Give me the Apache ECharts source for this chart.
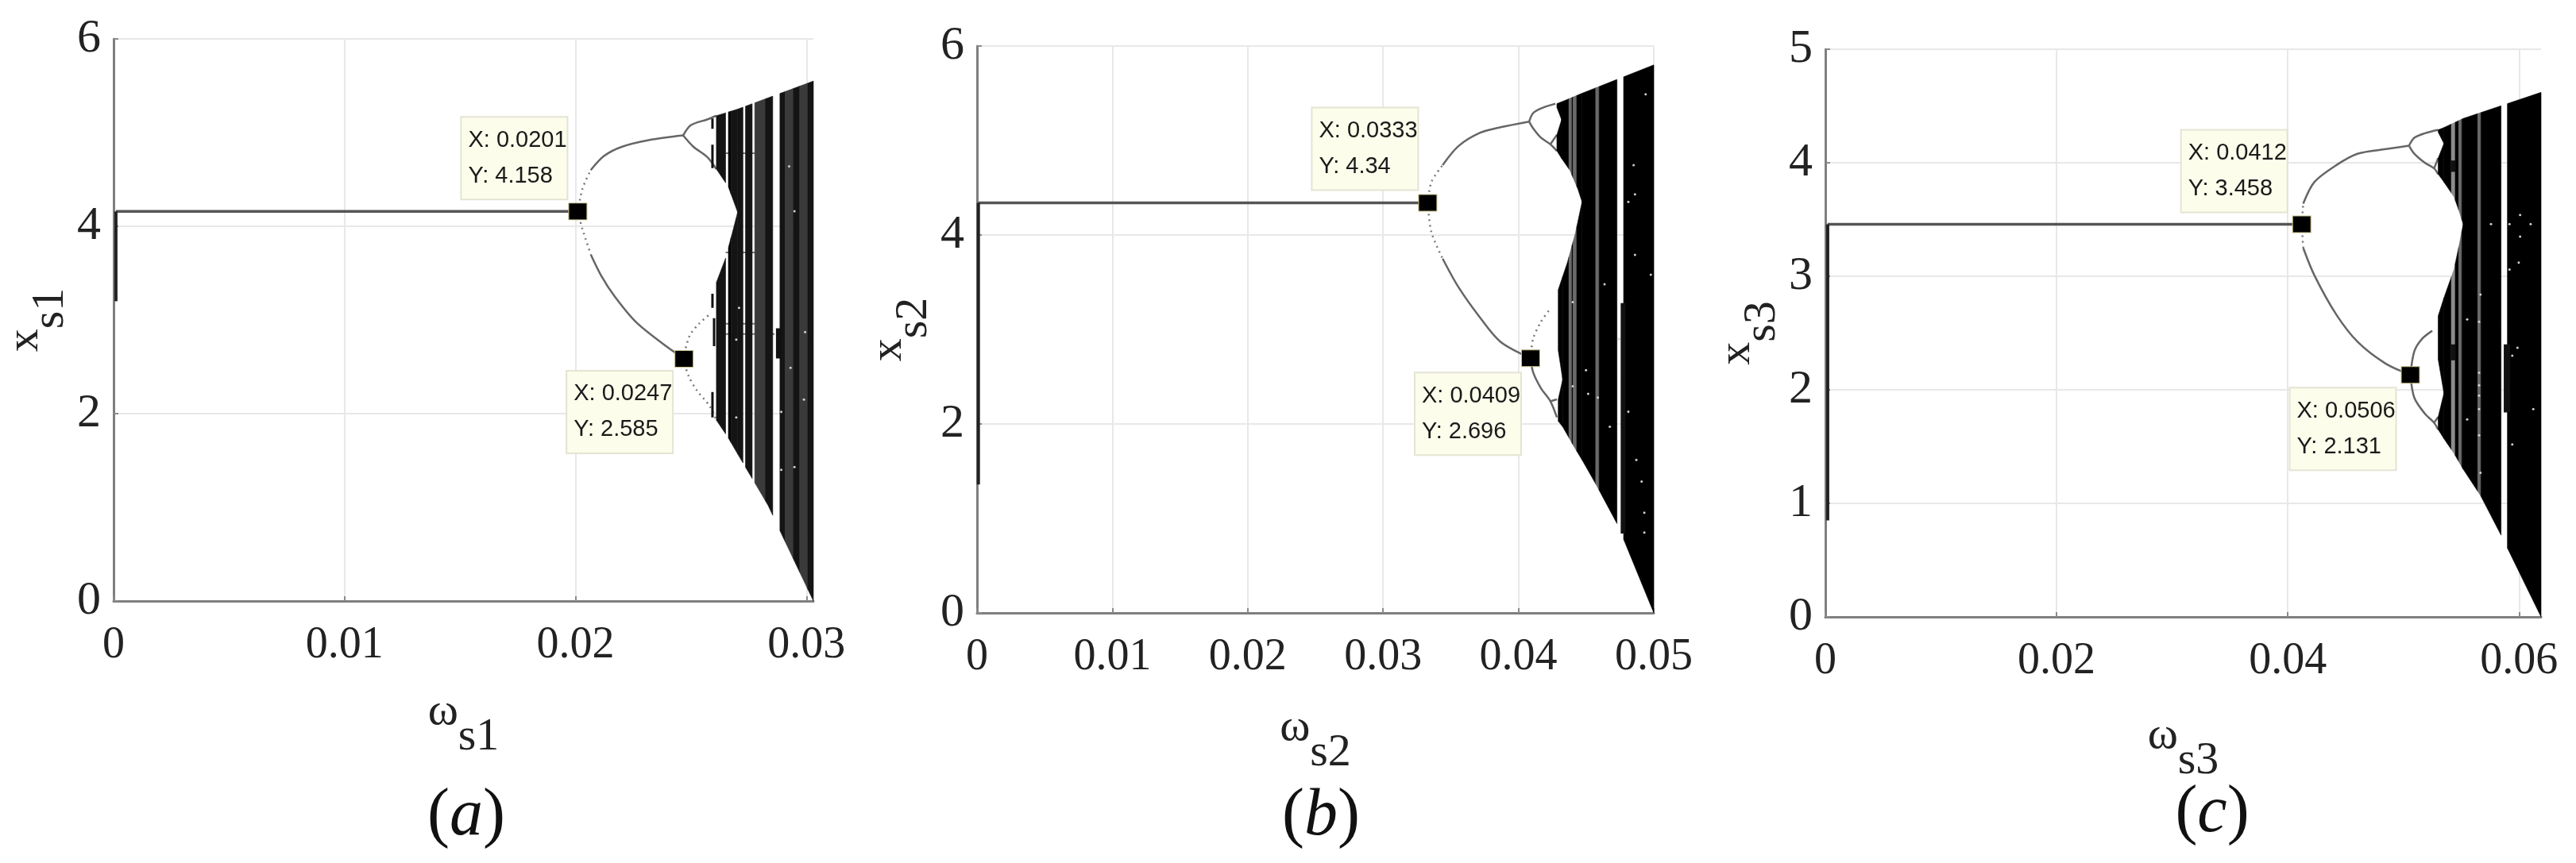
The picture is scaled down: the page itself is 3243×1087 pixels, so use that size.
<!DOCTYPE html>
<html><head><meta charset="utf-8"><style>html,body{margin:0;padding:0;background:#fff}#c{width:3243px;height:1087px}</style>
<script src="https://cdn.jsdelivr.net/npm/echarts@6/dist/echarts.min.js"></script></head>
<body><div id="c"></div><script>
// ---------- panel (a) ----------
const aXMax=0.0303, aYMax=6, aXStep=0.01, aYStep=2;
const aFixed=[[0.0001,4.158],[0.0201,4.158]];
const aTransient=[[0.0001,3.2],[0.0001,4.158]];
const aSparse=[[[0.0201,4.158],[0.0203,4.40],[0.02066,4.60]],[[0.0201,4.158],[0.0203,3.97],[0.02066,3.70]],[[0.02466,2.585],[0.02494,2.83],[0.02535,2.96],[0.02576,3.05]],[[0.02466,2.585],[0.0249,2.40],[0.02525,2.25],[0.02581,2.08],[0.0261,1.93]]];
const aBranches=[[[0.02066,4.60],[0.02123,4.75],[0.02202,4.85],[0.02317,4.92],[0.02466,4.97]],[[0.02066,3.70],[0.02112,3.47],[0.0217,3.25],[0.02261,2.98],[0.02376,2.75],[0.0247,2.585]],[[0.02466,4.97],[0.0250,5.08],[0.0257,5.14],[0.0261,5.18]],[[0.02466,4.97],[0.0251,4.85],[0.0257,4.74],[0.0261,4.61]]];
const aBands=[
 {top:[[0.0261,5.18],[0.02702,5.25]],bot:[[0.0261,4.61],[0.02662,4.42],[0.02702,4.15]]},
 {top:[[0.0261,3.40],[0.0265,3.66],[0.02679,3.93],[0.02702,4.15]],bot:[[0.0261,1.93],[0.02662,1.74],[0.02702,1.57]]},
 {top:[[0.02702,5.25],[0.0303,5.55]],bot:[[0.02702,1.57],[0.02834,1.02],[0.02891,0.72],[0.0303,0]]}];
const aStrips=[[0.0261,0.0265,1],[0.02662,0.02673,0],[0.02673,0.02725,1],[0.02736,0.02765,1],[0.02776,0.02822,2],[0.02822,0.02854,1],[0.02885,0.02908,1],[0.02908,0.02943,2],[0.02943,0.02971,1],[0.02971,0.03006,2],[0.03006,0.0303,1]];
const aBits=[[0.02593,5.15,5.04,3],[0.02593,4.87,4.62,3],[0.02593,3.28,3.13,3],[0.026,3.02,2.72,3],[0.02593,2.23,1.96,3],[0.0288,2.91,2.59,7]];
const aTraces=[[[0.0265,4.78],[0.02776,4.78]],[[0.0265,3.72],[0.02776,3.72]],[[0.02627,2.96],[0.02776,2.96]],[[0.02627,2.85],[0.02862,2.85]]];
const aSpecks=[[0.02948,4.16],[0.02925,4.64],[0.02708,3.13],[0.02696,2.79],[0.02891,2.02],[0.02989,2.15],[0.02931,2.49],[0.02948,1.43],[0.02891,1.40],[0.02994,2.87],[0.02696,1.96]];
const aTips=[[0.0201,4.158],[0.0247,2.585]];
// ---------- panel (b) ----------
const bXMax=0.05, bYMax=6, bXStep=0.01, bYStep=2;
const bFixed=[[0.0001,4.34],[0.0333,4.34]];
const bTransient=[[0.0001,1.36],[0.0001,4.34]];
const bSparse=[[[0.0333,4.34],[0.03357,4.56],[0.0344,4.74]],[[0.0333,4.34],[0.03357,4.03],[0.0344,3.75]],[[0.0409,2.696],[0.04108,2.9],[0.04166,3.08],[0.04236,3.22]]];
const bBranches=[[[0.0344,4.74],[0.03556,4.94],[0.03714,5.08],[0.03867,5.14],[0.04079,5.2]],[[0.0344,3.75],[0.03556,3.45],[0.03714,3.13],[0.03867,2.87],[0.0409,2.696]],[[0.04079,5.2],[0.04108,5.29],[0.04166,5.34],[0.04273,5.39]],[[0.04079,5.2],[0.04108,5.13],[0.04166,5.03],[0.04236,4.96],[0.04284,4.89]],[[0.04236,4.96],[0.04284,5.06]],[[0.0409,2.696],[0.04108,2.55],[0.04166,2.38],[0.04236,2.24],[0.04284,2.07]],[[0.04236,2.24],[0.04284,2.26]]];
const bBands=[
 {top:[[0.04284,5.39],[0.04319,5.41]],bot:[[0.04284,5.35],[0.04319,5.22]]},
 {top:[[0.04284,5.06],[0.04319,5.22]],bot:[[0.04284,4.89],[0.04319,4.81]]},
 {top:[[0.04319,5.41],[0.0447,5.50]],bot:[[0.04319,4.81],[0.04382,4.68],[0.04441,4.48],[0.0447,4.35]]},
 {top:[[0.04294,3.42],[0.04327,3.56]],bot:[[0.04294,2.78],[0.04327,2.47]]},
 {top:[[0.04294,2.26],[0.04327,2.47]],bot:[[0.04294,2.03],[0.04327,1.97]]},
 {top:[[0.04327,3.56],[0.04362,3.71],[0.04421,4.02],[0.0447,4.35]],bot:[[0.04327,1.97],[0.04411,1.76],[0.0447,1.62]]},
 {top:[[0.0447,5.50],[0.05,5.80]],bot:[[0.0447,1.62],[0.04577,1.35],[0.04734,0.93],[0.05,0]]}];
const bStrips=[[0.04284,0.04373,0],[0.04373,0.04396,3],[0.04396,0.04404,0],[0.04404,0.04431,3],[0.04431,0.04571,0],[0.04571,0.04596,3],[0.04596,0.04728,0],[0.04777,0.05,0]];
const bBits=[[0.04773,3.28,0.84,6]];
const bTraces=[];
const bSpecks=[[0.04812,4.35],[0.04861,3.79],[0.04978,3.58],[0.04851,4.74],[0.0493,1.06],[0.0493,0.85],[0.04812,2.13],[0.04499,2.57],[0.04515,2.32],[0.04587,2.28],[0.04871,1.62],[0.04744,2.90],[0.04401,2.40],[0.04401,3.29],[0.04675,1.97],[0.04636,3.48],[0.04861,4.43],[0.0494,5.49],[0.0491,1.39]];
const bTips=[[0.0333,4.34],[0.0409,2.696]];
// ---------- panel (c) ----------
const cXMax=0.0619, cYMax=5, cXStep=0.02, cYStep=1;
const cFixed=[[0.0002,3.458],[0.0412,3.458]];
const cTransient=[[0.0002,0.85],[0.0002,3.458]];
const cSparse=[[[0.0412,3.458],[0.04133,3.64]],[[0.0412,3.458],[0.04133,3.25]]];
const cBranches=[[[0.04133,3.64],[0.04229,3.83],[0.04421,3.98],[0.04606,4.08],[0.04847,4.12],[0.05048,4.15]],[[0.04133,3.25],[0.04229,3.01],[0.04421,2.66],[0.04606,2.42],[0.04847,2.23],[0.0506,2.131]],[[0.05048,4.15],[0.05094,4.22],[0.05185,4.26],[0.053,4.29]],[[0.05048,4.15],[0.05094,4.08],[0.05185,4.00],[0.05265,3.95],[0.053,3.90]],[[0.05265,3.95],[0.053,4.04]],[[0.0506,2.131],[0.05094,2.34],[0.05162,2.45],[0.05249,2.52]],[[0.0506,2.131],[0.05094,1.93],[0.05185,1.79],[0.05265,1.71],[0.053,1.65]],[[0.05265,1.71],[0.053,1.76]]];
const cBands=[
 {top:[[0.053,4.29],[0.0535,4.31]],bot:[[0.053,4.27],[0.0535,4.17]]},
 {top:[[0.053,4.04],[0.0535,4.17]],bot:[[0.053,3.90],[0.0535,3.83]]},
 {top:[[0.0535,4.31],[0.05517,4.39]],bot:[[0.0535,3.83],[0.05437,3.70],[0.05483,3.57],[0.05517,3.46]]},
 {top:[[0.053,2.65],[0.0535,2.81]],bot:[[0.053,2.27],[0.0535,1.97]]},
 {top:[[0.053,1.76],[0.0535,1.97]],bot:[[0.053,1.65],[0.0535,1.57]]},
 {top:[[0.0535,2.81],[0.05437,3.06],[0.05483,3.28],[0.05517,3.46]],bot:[[0.0535,1.57],[0.05437,1.44],[0.05517,1.30]]},
 {top:[[0.05517,4.39],[0.0619,4.62]],bot:[[0.05517,1.30],[0.05666,1.07],[0.05849,0.71],[0.0619,0]]}];
const cStrips=[[0.053,0.05414,0],[0.05414,0.05448,4],[0.05448,0.05478,0],[0.05478,0.05505,3],[0.05505,0.05643,0],[0.05643,0.0567,3],[0.0567,0.05844,0],[0.05899,0.0619,0]];
const cBits=[[0.05431,4.02,3.92,6],[0.05431,2.4,2.26,6],[0.05895,2.4,1.8,8]];
const cTraces=[];
const cSpecks=[[0.05917,3.46],[0.06009,3.54],[0.06009,3.35],[0.05917,3.06],[0.05997,3.12],[0.05666,2.84],[0.05654,2.15],[0.05654,2.04],[0.05654,1.83],[0.05654,1.60],[0.05941,1.52],[0.05941,2.30],[0.05986,2.37],[0.05666,1.27],[0.05551,2.62],[0.06123,1.83],[0.05757,3.46],[0.061,3.46],[0.05551,1.74],[0.05654,2.6],[0.05654,1.95]];
const cTips=[[0.0412,3.458],[0.0506,2.131]];
// ---------- text ----------
const xNames=['s1','s2','s3'], yNames=['s1','s2','s3'], captions=['a','b','c'];
// ---------- styling / layout (not data) ----------
const shades=['#000000','#141414','#3a3a3a','#6a6a6a','#8c8c8c'];
const grids=[{left:143,top:49,width:881,height:708},{left:1230,top:58,width:852,height:714},{left:2298,top:62,width:901,height:715}];
const tipOffsets=[[[-80,-67],[-81,67]],[[-79,-68],[-79,70]],[[-85,-67],[-85,68]]];
const captionPos=[[582,1032],[1658,1032],[2780,1028]];
const xNameGap=[79,84,89], yNameGap=[43,42,45];
const panels=[
 {xMax:aXMax,yMax:aYMax,xStep:aXStep,yStep:aYStep,fixed:aFixed,trans:aTransient,sparse:aSparse,branches:aBranches,bands:aBands,strips:aStrips,bits:aBits,traces:aTraces,specks:aSpecks,tips:aTips},
 {xMax:bXMax,yMax:bYMax,xStep:bXStep,yStep:bYStep,fixed:bFixed,trans:bTransient,sparse:bSparse,branches:bBranches,bands:bBands,strips:bStrips,bits:bBits,traces:bTraces,specks:bSpecks,tips:bTips},
 {xMax:cXMax,yMax:cYMax,xStep:cXStep,yStep:cYStep,fixed:cFixed,trans:cTransient,sparse:cSparse,branches:cBranches,bands:cBands,strips:cStrips,bits:cBits,traces:cTraces,specks:cSpecks,tips:cTips}];

function at(arr,x){
  if(x<=arr[0][0])return arr[0][1];
  for(let i=1;i<arr.length;i++){if(x<=arr[i][0]){const a=arr[i-1],b=arr[i];return a[1]+(b[1]-a[1])*(x-a[0])/(b[0]-a[0]);}}
  return arr[arr.length-1][1];
}
function bandPolys(bands,x0,x1,api){
  const out=[];
  bands.forEach(b=>{
    const lo=Math.max(x0,b.top[0][0]),hi=Math.min(x1,b.top[b.top.length-1][0]);
    if(hi<=lo)return;
    const knots=new Set([lo,hi]);
    b.top.concat(b.bot).forEach(p=>{if(p[0]>lo&&p[0]<hi)knots.add(p[0]);});
    const xs=[...knots].sort((m,n)=>m-n);
    const pts=xs.map(x=>api.coord([x,at(b.top,x)])).concat(xs.slice().reverse().map(x=>api.coord([x,at(b.bot,x)])));
    out.push(pts);
  });
  return out;
}
const xAxes=[],yAxes=[],series=[],titles=[];
const nameRich={m:{fontFamily:'Liberation Serif',fontSize:58,color:'#222'},s:{fontFamily:'Liberation Serif',fontSize:58,color:'#222',padding:[64,0,0,0]}};
panels.forEach((p,i)=>{
  const axisBase={type:'value',min:0,axisLine:{show:true,onZero:false,lineStyle:{color:'#7f7f7f',width:3}},
    axisTick:{show:true,inside:true,length:6,lineStyle:{color:'#8a8a8a',width:2}},
    splitLine:{show:true,lineStyle:{color:'#e8e8e8',width:2}},
    nameLocation:'middle',nameTextStyle:{rich:nameRich}};
  const endsOnTick=p.xMax===0.05;
  xAxes.push(Object.assign({},axisBase,{gridIndex:i,max:p.xMax,interval:p.xStep,name:'{m|\u03c9}{s|'+xNames[i]+'}',nameGap:xNameGap[i],
    axisLabel:{color:'#222',fontFamily:'Liberation Serif',fontSize:56,margin:28,showMaxLabel:endsOnTick},
    splitLine:{show:true,showMaxLine:endsOnTick,lineStyle:{color:'#e8e8e8',width:2}}}));
  yAxes.push(Object.assign({},axisBase,{gridIndex:i,max:p.yMax,interval:p.yStep,name:'{m|x}{s|'+yNames[i]+'}',nameGap:yNameGap[i],
    axisLabel:{color:'#222',fontFamily:'Liberation Serif',fontSize:60,margin:16}}));
  const ax={xAxisIndex:i,yAxisIndex:i};
  const line=(d,c,w)=>series.push(Object.assign({type:'line',data:d,showSymbol:false,silent:true,animation:false,z:3,lineStyle:{color:c,width:w}},ax));
  line(p.fixed,'#555',3.5);
  line(p.trans,'#222',4);
  p.sparse.forEach(d=>series.push(Object.assign({type:'line',data:d,smooth:0.3,showSymbol:false,silent:true,animation:false,z:3,lineStyle:{color:'#777',width:2.5,type:[2,5]}},ax)));
  p.branches.forEach(d=>series.push(Object.assign({type:'line',data:d,smooth:0.3,showSymbol:false,silent:true,animation:false,z:3,lineStyle:{color:'#666',width:2.5}},ax)));
  series.push(Object.assign({type:'custom',data:p.strips,clip:false,silent:true,animation:false,z:4,encode:{x:[0,1]},
    renderItem:(params,api)=>{
      const x0=api.value(0),x1=api.value(1),c=shades[api.value(2)];
      return {type:'group',children:bandPolys(p.bands,x0,x1,api).map(pts=>({type:'polygon',shape:{points:pts},style:{fill:c,stroke:c,lineWidth:0.6}}))};
    }},ax));
  p.traces.forEach(d=>line(d,'#777',2));
  p.bits.forEach(b=>series.push(Object.assign({type:'line',data:[[b[0],b[1]],[b[0],b[2]]],showSymbol:false,silent:true,animation:false,z:4,lineStyle:{color:'#111',width:b[3]}},ax)));
  series.push(Object.assign({type:'scatter',data:p.specks,symbol:'circle',symbolSize:3,silent:true,animation:false,z:5,itemStyle:{color:'#cfcfcf',opacity:1}},ax));
  series.push(Object.assign({type:'scatter',silent:true,animation:false,z:6,symbol:'rect',symbolSize:[23,21],
    itemStyle:{color:'#000',borderColor:'#c9c28a',borderWidth:1,opacity:1},
    data:p.tips.map((t,k)=>({value:t,label:{show:true,position:'inside',offset:tipOffsets[i][k],
      formatter:'{t|X: '+t[0]+'}\n{t|Y: '+t[1]+'}',backgroundColor:'#fdfdec',borderColor:'#e4e4d4',borderWidth:2,padding:[6,8,6,8],
      rich:{t:{width:116,align:'left',lineHeight:45,fontFamily:'Liberation Sans',fontSize:29,color:'#1a1a1a'}}}}))},ax));
  titles.push({text:'{p|(}{i|'+captions[i]+'}{p|)}',left:captionPos[i][0],top:captionPos[i][1]-50,textAlign:'center',
    textStyle:{fontWeight:'normal',rich:{p:{fontFamily:'Liberation Serif',fontWeight:'normal',fontSize:84,color:'#111'},i:{fontFamily:'Liberation Serif',fontWeight:'normal',fontStyle:'italic',fontSize:84,color:'#111'}}}});
});
const chart=echarts.init(document.getElementById('c'),null,{renderer:'canvas',width:3243,height:1087});
chart.setOption({animation:false,backgroundColor:'#fff',title:titles,grid:grids,xAxis:xAxes,yAxis:yAxes,series:series});
</script></body></html>
